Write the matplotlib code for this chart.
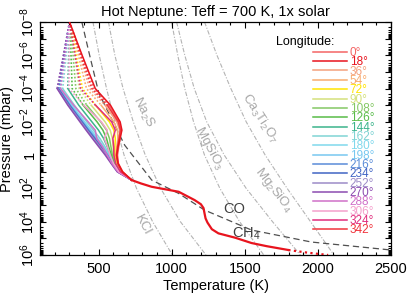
import matplotlib
matplotlib.use("Agg")
import matplotlib.pyplot as plt
from matplotlib.ticker import LogLocator, MultipleLocator, NullFormatter

plt.rcParams['font.family'] = ['Liberation Sans', 'DejaVu Sans']
plt.rcParams['mathtext.fontset'] = 'custom'
plt.rcParams['mathtext.rm'] = 'Liberation Sans'
plt.rcParams['mathtext.it'] = 'Liberation Sans:italic'
plt.rcParams['mathtext.default'] = 'regular'

# ---- data ----
longitudes = [0, 18, 36, 54, 72, 90, 108, 126, 144, 162,
              180, 198, 216, 234, 252, 270, 288, 306, 324, 342]
line_colors = ['#f46464', '#e8141e', '#f4a07c', '#f8ac70', '#ffe400',
               '#d4e07c', '#84c864', '#58bc48', '#3cb48c', '#80d4d4',
               '#80d8ec', '#78c8f0', '#5a8cd8', '#4064c4', '#9c8cc8',
               '#8c4cb0', '#d070c8', '#f4a0cc', '#e02c7c', '#f0343c']

# upper atmosphere, log10(P / mbar)
logp_upper = [-8, -6, -4, -3, -2, -1.5, -1, -0.5, 0, 0.5, 1, 1.5]
temp_upper = [
    [302, 385, 468, 572, 640, 655, 648, 638, 630, 636, 666, 727],   # 0
    [302, 388, 478, 582, 648, 660, 647, 634, 625, 634, 664, 727],   # 18
    [302, 372, 440, 545, 625, 645, 640, 630, 622, 630, 660, 727],   # 36
    [302, 362, 418, 518, 605, 630, 632, 625, 618, 627, 657, 727],   # 54
    [302, 348, 390, 480, 575, 605, 615, 612, 610, 622, 653, 727],   # 72
    [302, 338, 368, 450, 545, 580, 595, 600, 602, 617, 650, 727],   # 90
    [302, 326, 345, 420, 515, 555, 575, 585, 595, 612, 647, 727],   # 108
    [302, 312, 320, 395, 490, 530, 555, 570, 588, 607, 644, 727],   # 126
    [302, 296, 290, 365, 455, 500, 535, 560, 580, 602, 641, 727],   # 144
    [302, 279, 255, 335, 420, 465, 510, 545, 575, 599, 639, 727],   # 162
    [302, 271, 240, 320, 405, 450, 495, 535, 570, 597, 637, 727],   # 180
    [302, 267, 232, 310, 395, 440, 485, 528, 566, 595, 635, 727],   # 198
    [302, 265, 228, 305, 390, 433, 478, 522, 562, 593, 634, 727],   # 216
    [302, 263, 224, 300, 385, 428, 472, 516, 558, 591, 632, 727],   # 234
    [302, 261, 220, 295, 380, 422, 466, 510, 553, 589, 630, 727],   # 252
    [302, 260, 217, 290, 373, 415, 458, 502, 546, 586, 628, 727],   # 270
    [302, 271, 240, 330, 430, 478, 488, 528, 560, 592, 633, 727],   # 288
    [302, 300, 298, 400, 520, 560, 540, 562, 580, 602, 640, 727],   # 306
    [302, 340, 378, 480, 590, 615, 598, 604, 605, 617, 650, 727],   # 324
    [302, 378, 455, 560, 635, 650, 640, 630, 622, 632, 662, 727],   # 342
]
# profile drawn dotted above this level
dotted_until = [-3, -8, -3, -3, -3, -3, -3, -3, -4, -4,
                -4, -4, -4, -4, -4, -4, -4, -3, -3, -3]

# deep atmosphere (all longitudes identical)
temp_deep = [727, 790, 863, 955, 1048, 1157, 1200, 1218, 1225, 1232, 1245,
             1275, 1320, 1434, 1546, 1650, 1798]
logp_deep = [1.5, 1.7, 1.9, 2.05, 2.2, 2.7, 2.95, 3.18, 3.5, 3.8, 4.05,
             4.45, 4.7, 4.96, 5.28, 5.47, 5.7]
temp_deep_ext = [1798, 1930, 2070]
logp_deep_ext = [5.7, 5.86, 6.0]

# CO = CH4 boundary
temp_co = [386, 434, 502, 679, 864, 1048, 1225, 1546, 1955, 2500]
logp_co = [-8, -6.2, -3.73, -0.6, 1.5, 2.3, 3.3, 4.5, 5.22, 5.7]

# condensation curves
logp_cond = [-8, -6, -4, -2, 0, 2, 4, 6]
temp_kcl = [462, 505, 555, 612, 675, 760, 870, 1005]
temp_na2s = [568, 612, 668, 738, 820, 925, 1060, 1235]
temp_mgsio3 = [1000, 1042, 1090, 1150, 1225, 1330, 1465, 1630]
temp_mg2sio4 = [1034, 1090, 1155, 1240, 1360, 1510, 1690, 1880]
temp_ca3ti2o7 = [1225, 1310, 1405, 1510, 1640, 1790, 1950, 2110]

cond_labels = [
    ('Na$_2$S', 802, -2.59, -63),
    ('KCl', 802, 4.2, -62),
    ('MgSiO$_3$', 1259, -0.43, -62),
    ('Ca$_3$Ti$_2$O$_7$', 1600, -2.23, -57),
    ('Mg$_2$SiO$_4$', 1696, 2.1, -52),
]

fig = plt.figure(figsize=(4.07, 2.95), dpi=100)
ax = fig.add_axes([0.0983, 0.1356, 0.8624, 0.7898])

def p(vals):
    return [10.0 ** v for v in vals]

# condensation curves and chemistry boundary
for tt in [temp_kcl, temp_na2s, temp_mgsio3, temp_mg2sio4, temp_ca3ti2o7]:
    ax.plot(tt, p(logp_cond), color='#b4b4b4', lw=0.8,
            linestyle=(0, (4, 1.5, 1, 1.5)), zorder=1)
ax.plot(temp_co, p(logp_co), color='#505050', lw=0.9,
        linestyle=(0, (5, 3)), zorder=1)

for text, t, lp, rot in cond_labels:
    ax.text(t, 10.0 ** lp, text, color='#a8a8a8', fontsize=9.5,
            rotation=rot, ha='center', va='center', rotation_mode='anchor')
ax.text(1430, 10.0 ** 3.24, 'CO', color='#404040', fontsize=10.5,
        ha='center', va='center')
ax.text(1512, 10.0 ** 4.74, 'CH$_4$', color='#404040', fontsize=10.5,
        ha='center', va='center')

# profiles, red 18 deg drawn last
order = [i for i in range(len(longitudes)) if longitudes[i] != 18] + [1]
handles = {}
for i in order:
    tt = temp_upper[i]
    split = logp_upper.index(dotted_until[i])
    c = line_colors[i]
    if split > 0:
        ax.plot(tt[:split + 1], p(logp_upper[:split + 1]), color=c, lw=1.2,
                linestyle=(0, (1, 1.2)), zorder=2)
    h, = ax.plot(tt[split:], p(logp_upper[split:]), color=c, lw=1.1, zorder=3)
    handles[i] = h

ax.plot(temp_deep, p(logp_deep), color='#e8141e', lw=1.6, zorder=4)
ax.plot(temp_deep_ext, p(logp_deep_ext), color='#e8141e', lw=1.6,
        linestyle=(0, (1, 1.5)), zorder=4)

# axes
ax.set_xlim(100, 2500)
ax.set_yscale('log')
ax.set_ylim(1e6, 1e-8)
ax.set_xticks([500, 1000, 1500, 2000, 2500])
ax.xaxis.set_minor_locator(MultipleLocator(100))
yt = list(range(-8, 7))
ax.set_yticks([10.0 ** k for k in yt])
ylabels = []
for k in yt:
    if k % 2:
        ylabels.append('')
    elif k == 0:
        ylabels.append('1')
    else:
        ylabels.append('10$^{%d}$' % k)
ax.set_yticklabels(ylabels, rotation=90, va='center')
ax.yaxis.set_minor_locator(LogLocator(base=10, subs=range(2, 10), numticks=100))
ax.yaxis.set_minor_formatter(NullFormatter())
ax.tick_params(which='both', direction='in', top=True, right=True,
               labelsize=10.5, width=0.8)
ax.tick_params(which='major', length=4)
ax.tick_params(which='minor', length=2)
ax.tick_params(axis='x', pad=5)
ax.tick_params(axis='y', pad=2)
for s in ax.spines.values():
    s.set_linewidth(0.9)

ax.set_xlabel('Temperature (K)', fontsize=10.5, labelpad=2)
ax.set_ylabel('Pressure (mbar)', fontsize=10.5, labelpad=3)
ax.set_title('Hot Neptune: Teff = 700 K, 1x solar', fontsize=10.5, pad=4)

# legend
lg_handles = [handles[i] for i in range(len(longitudes))]
lg_labels = ['%d\u00b0' % lon for lon in longitudes]
ax.legend(lg_handles, lg_labels, loc='upper left',
          bbox_to_anchor=(0.778, 0.893), frameon=False, fontsize=8.5,
          labelcolor='linecolor', handlelength=2.88, handletextpad=0.22,
          labelspacing=-0.225, borderpad=0, borderaxespad=0)
ax.text(0.673, 0.915, 'Longitude:', transform=ax.transAxes, fontsize=9,
        ha='left', va='center')

fig.savefig('out.png', dpi=100)
